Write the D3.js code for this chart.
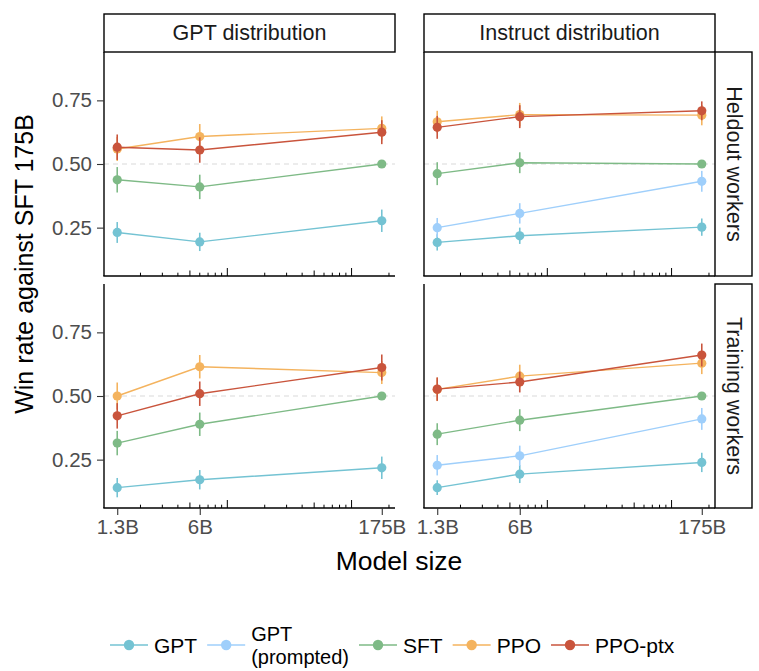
<!DOCTYPE html>
<html>
<head>
<meta charset="utf-8">
<script src="https://cdn.jsdelivr.net/npm/d3@7"></script>
<style>
  body { margin: 0; background: #fff; }
  svg { display: block; font-family: "Liberation Sans", Arial, sans-serif; }
</style>
</head>
<body>
<svg id="chart" width="759" height="671"></svg>
<script>
// model sizes (billions of params) and their labels
const sizes = [1.3, 6, 175]
const sizeLabels = ["1.3B", "6B", "175B"]
const distributions = ["GPT distribution", "Instruct distribution"]
const workers = ["Heldout workers", "Training workers"]
const models = ["GPT", "GPT\n(prompted)", "SFT", "PPO", "PPO-ptx"]
const yTicks = [0.25, 0.5, 0.75]

// panel order: GPT/heldout, Instruct/heldout, GPT/training, Instruct/training
const gpt         = [[0.231, 0.194, 0.277], [0.192, 0.218, 0.252], [0.140, 0.171, 0.218], [0.140, 0.193, 0.239]]
const gptPrompted = [null,                  [0.250, 0.306, 0.432], null,                  [0.228, 0.265, 0.410]]
const sft         = [[0.438, 0.410, 0.500], [0.462, 0.505, 0.500], [0.315, 0.389, 0.500], [0.350, 0.405, 0.500]]
const ppo         = [[0.559, 0.608, 0.640], [0.666, 0.694, 0.692], [0.500, 0.615, 0.592], [0.526, 0.578, 0.629]]
const ppoPtx      = [[0.566, 0.555, 0.625], [0.644, 0.686, 0.709], [0.422, 0.509, 0.612], [0.527, 0.555, 0.661]]

// half-widths of the error bars
const gptErr         = [[0.041, 0.036, 0.044], [0.032, 0.032, 0.034], [0.038, 0.038, 0.044], [0.029, 0.035, 0.038]]
const gptPromptedErr = [null,                  [0.038, 0.040, 0.041], null,                  [0.040, 0.040, 0.043]]
const sftErr         = [[0.050, 0.048, 0],     [0.045, 0.041, 0],     [0.048, 0.046, 0],     [0.043, 0.043, 0]]
const ppoErr         = [[0.047, 0.049, 0.047], [0.043, 0.046, 0.040], [0.053, 0.046, 0.045], [0.046, 0.045, 0.043]]
const ppoPtxErr      = [[0.050, 0.050, 0.047], [0.045, 0.045, 0.037], [0.050, 0.048, 0.051], [0.046, 0.041, 0.045]]

const colors = ["#74c3d3", "#9fcffb", "#7eba86", "#f4b35e", "#c9543c"]

const seriesVals = [gpt, gptPrompted, sft, ppo, ppoPtx]
const seriesErr = [gptErr, gptPromptedErr, sftErr, ppoErr, ppoPtxErr]

const svg = d3.select("#chart")
const panelX = [104, 424], panelW = 291
const panelY = [52, 284], panelH = 224
const tickCol = "#4d4d4d"

// log x with 5% expansion like ggplot
const lo = Math.log10(sizes[0]), hi = Math.log10(sizes[2])
const pad = (hi - lo) * 0.05
const x = d3.scaleLog()
    .domain([Math.pow(10, lo - pad), Math.pow(10, hi + pad)])
    .range([0, panelW])
const y = d3.scaleLinear()
    .domain([0.06, 0.94])
    .range([panelH, 0])

const line = d3.line()
    .x((d, i) => x(sizes[i]))
    .y(d => y(d))

for (let r = 0; r < 2; r++) {
  for (let c = 0; c < 2; c++) {
    let p = r * 2 + c
    let g = svg.append("g").attr("transform", `translate(${panelX[c]},${panelY[r]})`)

    // reference line at 0.5
    g.append("line")
      .attr("x1", 0).attr("x2", panelW)
      .attr("y1", y(0.5)).attr("y2", y(0.5))
      .attr("stroke", "#d9d9d9").attr("stroke-width", 1.1)
      .attr("stroke-dasharray", "5,4")

    seriesVals.forEach((vals, s) => {
      let v = vals[p]
      if (!v) return
      let e = seriesErr[s][p]
      let sg = g.append("g")
      sg.append("path")
        .attr("d", line(v))
        .attr("fill", "none")
        .attr("stroke", colors[s])
        .attr("stroke-width", 1.4)
      sg.selectAll("line.err")
        .data(v)
        .enter()
        .append("line")
          .attr("class", "err")
          .attr("x1", (d, i) => x(sizes[i]))
          .attr("x2", (d, i) => x(sizes[i]))
          .attr("y1", (d, i) => y(d - e[i]))
          .attr("y2", (d, i) => y(d + e[i]))
          .attr("stroke", colors[s])
          .attr("stroke-width", 1.6)
      sg.selectAll("circle")
        .data(v)
        .enter()
        .append("circle")
          .attr("cx", (d, i) => x(sizes[i]))
          .attr("cy", d => y(d))
          .attr("r", 4.6)
          .attr("fill", colors[s])
    })

    // log ticks along the bottom, pointing inward
    let logTicks = []
    for (let dec = 1; dec <= 100; dec *= 10) {
      for (let m = 1; m <= 9; m++) {
        let v = m * dec
        if (v >= x.domain()[0] && v <= x.domain()[1]) logTicks.push({v: v, len: m == 1 ? 8 : (m == 5 ? 5.5 : 3.3)})
      }
    }
    g.selectAll("line.logtick")
      .data(logTicks)
      .enter()
      .append("line")
        .attr("x1", d => x(d.v)).attr("x2", d => x(d.v))
        .attr("y1", panelH).attr("y2", d => panelH - d.len)
        .attr("stroke", "#000").attr("stroke-width", 1)

    // axis lines
    g.append("line")
      .attr("x1", 0).attr("x2", 0).attr("y1", 0).attr("y2", panelH)
      .attr("stroke", "#000").attr("stroke-width", 1.4)
    g.append("line")
      .attr("x1", -0.7).attr("x2", panelW).attr("y1", panelH).attr("y2", panelH)
      .attr("stroke", "#000").attr("stroke-width", 1.4)

    if (c == 0) {
      let ya = g.append("g").call(d3.axisLeft(y).tickValues(yTicks).tickFormat(d3.format(".2f")).tickSize(7).tickPadding(5))
      ya.select(".domain").remove()
      ya.selectAll("line").attr("stroke", "#333").attr("stroke-width", 1.1)
      ya.selectAll("text").attr("fill", tickCol).style("font-size", "20.5px")
        .style("font-family", "Liberation Sans, Arial, sans-serif")
    }
    if (r == 1) {
      let xa = g.append("g").attr("transform", `translate(0,${panelH})`)
        .call(d3.axisBottom(x).tickValues(sizes).tickFormat((d, i) => sizeLabels[i]).tickSize(7).tickPadding(4))
      xa.select(".domain").remove()
      xa.selectAll("line").attr("stroke", "#333").attr("stroke-width", 1.1)
      xa.selectAll("text").attr("fill", tickCol).style("font-size", "20.5px")
        .style("font-family", "Liberation Sans, Arial, sans-serif")
    }
  }
}

// top strips
distributions.forEach((name, c) => {
  svg.append("rect")
    .attr("x", panelX[c]).attr("y", 14).attr("width", panelW).attr("height", 38)
    .attr("fill", "#fff").attr("stroke", "#000").attr("stroke-width", 1.4)
  svg.append("text")
    .attr("x", panelX[c] + panelW / 2).attr("y", 33)
    .attr("text-anchor", "middle").attr("dominant-baseline", "central")
    .style("font-size", "21.5px").attr("fill", "#1a1a1a")
    .text(name)
})

// right strips
workers.forEach((name, r) => {
  svg.append("rect")
    .attr("x", 715).attr("y", panelY[r]).attr("width", 37).attr("height", panelH)
    .attr("fill", "#fff").attr("stroke", "#000").attr("stroke-width", 1.4)
  svg.append("text")
    .attr("transform", `translate(734,${panelY[r] + panelH / 2}) rotate(90)`)
    .attr("text-anchor", "middle").attr("dominant-baseline", "central")
    .style("font-size", "21.5px").attr("fill", "#1a1a1a")
    .text(name)
})

// axis titles
svg.append("text")
  .attr("x", 399).attr("y", 570)
  .attr("text-anchor", "middle")
  .style("font-size", "26.5px").attr("fill", "#000")
  .text("Model size")
svg.append("text")
  .attr("transform", "translate(33,264) rotate(-90)")
  .attr("text-anchor", "middle")
  .style("font-size", "25px").attr("fill", "#000")
  .text("Win rate against SFT 175B")

// legend
let lx = 110
const ly = 645
models.forEach((name, s) => {
  let lg = svg.append("g")
  lg.append("line")
    .attr("x1", lx).attr("x2", lx + 38).attr("y1", ly).attr("y2", ly)
    .attr("stroke", colors[s]).attr("stroke-width", 1.4)
  lg.append("circle")
    .attr("cx", lx + 19).attr("cy", ly).attr("r", 5.2).attr("fill", colors[s])
  let parts = name.split("\n")
  let w = 0
  parts.forEach((pt, k) => {
    let t = lg.append("text")
      .attr("x", lx + 44)
      .attr("y", parts.length == 1 ? ly : ly - 11.5 + k * 23)
      .attr("dominant-baseline", "central")
      .style("font-size", parts.length == 1 ? "21px" : "20px").attr("fill", "#000")
      .text(pt)
    w = Math.max(w, t.node().getComputedTextLength())
  })
  lx = lx + 44 + w + 10
})
</script>
</body>
</html>
